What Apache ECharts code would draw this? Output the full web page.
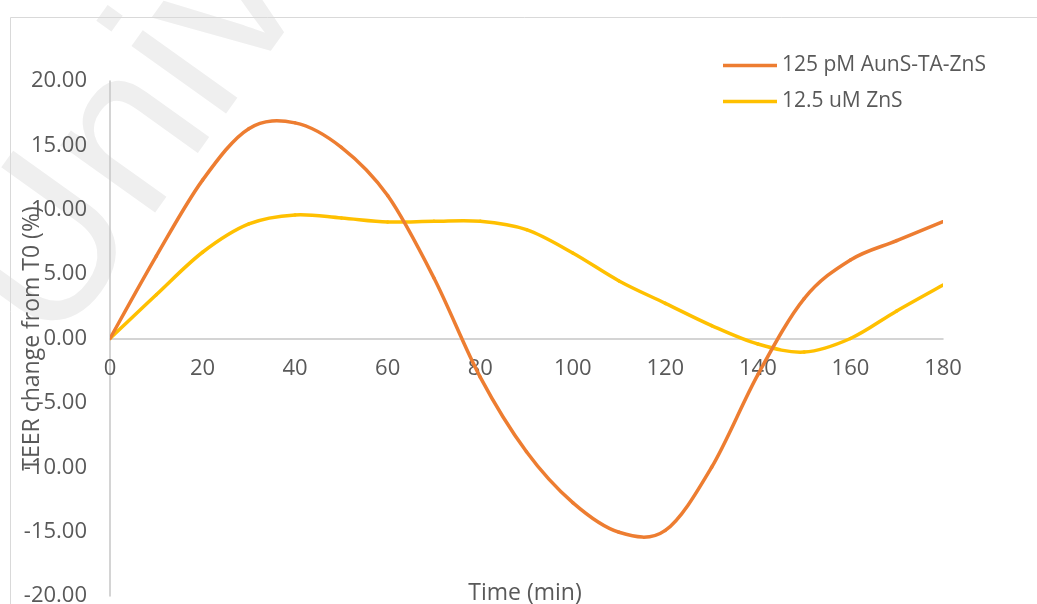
<!DOCTYPE html>
<html>
<head>
<meta charset="utf-8">
<script src="https://cdn.jsdelivr.net/npm/echarts@6/dist/echarts.min.js"></script>
<style>
  html, body { margin: 0; padding: 0; background: #ffffff; }
  #chart { width: 1037px; height: 604px; }
</style>
</head>
<body>
<div id="chart"></div>
<script>
// Sampling times (min)
const times = [0, 10, 20, 30, 40, 50, 60, 70, 80, 90, 100, 110, 120, 130, 140, 150, 160, 170, 180];

// TEER change from T0 (%) for each treatment
const aunsTaZns = [0, 6.4, 12.3, 16.3, 16.75, 14.85, 11.1, 4.7, -3.0, -8.8, -12.75, -15.05, -14.9, -10.0, -2.8, 3.1, 6.1, 7.6, 9.07];
const zns = [0, 3.4, 6.7, 8.9, 9.6, 9.36, 9.05, 9.1, 9.1, 8.45, 6.64, 4.47, 2.73, 1.0, -0.43, -1.05, 0.0, 2.14, 4.15];

const seriesNames = ['125 pM AunS-TA-ZnS', '12.5 uM ZnS'];
const seriesColors = ['#ED7D31', '#FFC000'];
const yAxisTitle = 'TEER change from T0 (%)';
const xAxisTitle = 'Time (min)';
const watermarkText = 'University';

const pair = (vals) => times.map((t, i) => [t, vals[i]]);

const labelColor = '#595959';
const font = '"Open Sans", "Liberation Sans", sans-serif';

// grid geometry: the x axis sits on the zero line, so shift it up from the grid bottom
const gridTop = 81, gridBottom = 8, chartHeight = 604;
const plotHeight = chartHeight - gridTop - gridBottom;
const yMin = -20, yMax = 20;
const zeroOffset = -plotHeight * (0 - yMin) / (yMax - yMin);

// Smoothed line drawn segment by segment: each segment is a cubic Bezier whose
// control points come from the neighbouring data points (Catmull-Rom style).
function smoothSegment(vals, color) {
  return function (params, api) {
    const i = params.dataIndex;
    const n = times.length;
    if (i >= n - 1) return null;
    const clampIdx = (k) => Math.max(0, Math.min(n - 1, k));
    const pt = (k) => api.coord([times[clampIdx(k)], vals[clampIdx(k)]]);
    const p0 = pt(i - 1), p1 = pt(i), p2 = pt(i + 1), p3 = pt(i + 2);
    const c1 = [p1[0] + (p2[0] - p0[0]) / 6, p1[1] + (p2[1] - p0[1]) / 6];
    const c2 = [p2[0] - (p3[0] - p1[0]) / 6, p2[1] - (p3[1] - p1[1]) / 6];
    return {
      type: 'bezierCurve',
      shape: {
        x1: p1[0], y1: p1[1],
        cpx1: c1[0], cpy1: c1[1],
        cpx2: c2[0], cpy2: c2[1],
        x2: p2[0], y2: p2[1]
      },
      style: { stroke: color, lineWidth: 3.5, fill: null, lineCap: 'round' }
    };
  };
}

const chart = echarts.init(document.getElementById('chart'), null, { renderer: 'canvas' });

chart.setOption({
  animation: false,
  backgroundColor: '#ffffff',
  graphic: [
    {
      type: 'text',
      z: -10,
      silent: true,
      x: -85,
      y: 255,
      rotation: 0.95,
      style: {
        text: watermarkText,
        fontSize: 220,
        fontFamily: '"Liberation Sans", sans-serif',
        fill: '#efefef',
        align: 'left',
        verticalAlign: 'alphabetic'
      }
    },
    {
      type: 'rect',
      z: -5,
      silent: true,
      shape: { x: 10.5, y: 17.5, width: 1200, height: 800 },
      style: { fill: 'none', stroke: '#d9d9d9', lineWidth: 1 }
    },
    {
      type: 'text',
      silent: true,
      x: 525,
      y: 593,
      style: {
        text: xAxisTitle,
        fontSize: 23,
        fontFamily: font,
        fill: labelColor,
        align: 'center',
        verticalAlign: 'middle'
      }
    }
  ],
  legend: {
    orient: 'vertical',
    left: 718,
    top: 50,
    icon: 'rect',
    itemWidth: 54,
    itemHeight: 3.5,
    itemGap: 15,
    textStyle: { fontSize: 21, fontFamily: font, color: labelColor },
    data: seriesNames
  },
  grid: {
    left: 110, right: 94, top: gridTop, bottom: gridBottom,
    containLabel: false,
    outerBoundsMode: 'none'
  },
  xAxis: {
    type: 'value',
    min: 0,
    max: 180,
    interval: 20,
    offset: zeroOffset,
    splitLine: { show: false },
    axisTick: { show: false },
    axisLine: { onZero: false, lineStyle: { color: '#c6c6c6', width: 1.5 } },
    axisLabel: { margin: 19, fontSize: 22, fontFamily: font, color: labelColor }
  },
  yAxis: {
    type: 'value',
    min: yMin,
    max: yMax,
    interval: 5,
    name: yAxisTitle,
    nameLocation: 'middle',
    nameRotate: 90,
    nameGap: 66,
    nameMoveOverlap: false,
    nameTextStyle: { fontSize: 23, fontFamily: font, color: labelColor },
    splitLine: { show: false },
    axisTick: { show: false },
    axisLine: { show: true, onZero: false, lineStyle: { color: '#c6c6c6', width: 1.5 } },
    axisLabel: {
      margin: 23,
      fontSize: 22,
      fontFamily: font,
      color: labelColor,
      formatter: (v) => v.toFixed(2)
    }
  },
  series: [
    {
      name: seriesNames[0],
      type: 'custom',
      data: pair(aunsTaZns),
      encode: { x: 0, y: 1 },
      renderItem: smoothSegment(aunsTaZns, seriesColors[0]),
      itemStyle: { color: seriesColors[0] },
      clip: true,
      z: 3
    },
    {
      name: seriesNames[1],
      type: 'custom',
      data: pair(zns),
      encode: { x: 0, y: 1 },
      renderItem: smoothSegment(zns, seriesColors[1]),
      itemStyle: { color: seriesColors[1] },
      clip: true,
      z: 2
    }
  ]
});
</script>
</body>
</html>
